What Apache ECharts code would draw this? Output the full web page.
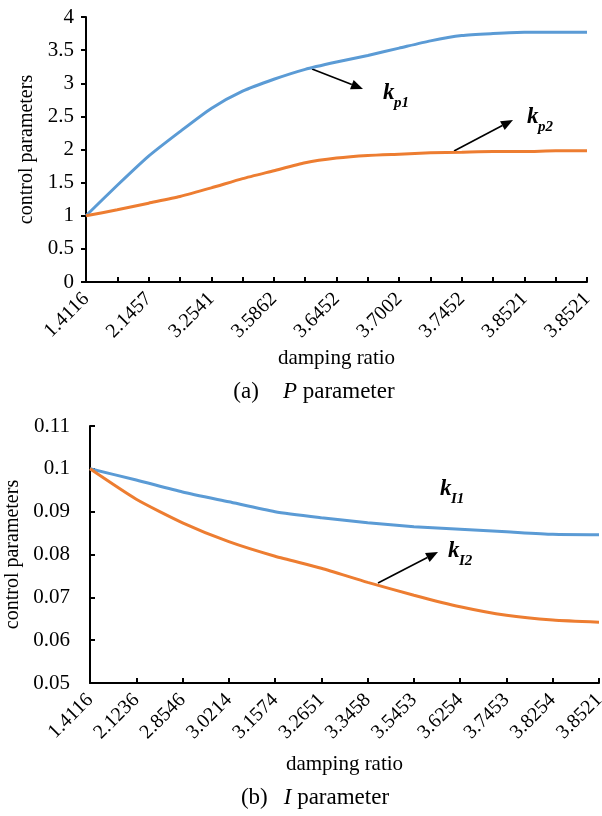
<!DOCTYPE html>
<html>
<head>
<meta charset="utf-8">
<title>control parameters</title>
<script src="https://cdn.jsdelivr.net/npm/echarts@6/dist/echarts.min.js"></script>
<style>
  html, body { margin: 0; padding: 0; background: #ffffff; }
  #main { width: 602px; height: 816px; }
</style>
</head>
<body>
<div id="main"></div>
<script>
// (a) P parameter: 17 points, only every other label is printed
var pLabels = ['1.4116', '', '2.1457', '', '3.2541', '', '3.5862', '', '3.6452', '',
  '3.7002', '', '3.7452', '', '3.8521', '', '3.8521'];
var kp1 = [1.00, 1.46, 1.90, 2.27, 2.62, 2.88, 3.06, 3.21, 3.32, 3.42, 3.53, 3.64, 3.72, 3.75, 3.77, 3.77, 3.77];
var kp2 = [1.00, 1.09, 1.19, 1.29, 1.42, 1.56, 1.68, 1.80, 1.87, 1.91, 1.93, 1.95, 1.96, 1.97, 1.97, 1.98, 1.98];

// (b) I parameter
var iLabels = ['1.4116', '2.1236', '2.8546', '3.0214', '3.1574', '3.2651',
  '3.3458', '3.5453', '3.6254', '3.7453', '3.8254', '3.8521'];
var kI1 = [0.1000, 0.0974, 0.0946, 0.0923, 0.0900, 0.0886, 0.0874, 0.0865, 0.0859, 0.0853, 0.0847, 0.0846];
var kI2 = [0.1000, 0.0929, 0.0874, 0.0830, 0.0796, 0.0768, 0.0735, 0.0705, 0.0678, 0.0658, 0.0647, 0.0642];

var FONT = '"Liberation Serif", "Times New Roman", serif';
var BLUE = '#5b9bd5';
var ORANGE = '#ed7d31';

// arrow = line + small triangle head
function arrow(x1, y1, x2, y2) {
  var dx = x2 - x1, dy = y2 - y1;
  var len = Math.sqrt(dx * dx + dy * dy);
  var ux = dx / len, uy = dy / len;
  var hl = 12, hw = 5;
  var bx = x2 - ux * hl, by = y2 - uy * hl;
  return {
    type: 'group',
    children: [
      { type: 'line', shape: { x1: x1, y1: y1, x2: bx, y2: by }, style: { stroke: '#000', lineWidth: 1.6 } },
      {
        type: 'polygon',
        shape: { points: [[x2, y2], [bx - uy * hw, by + ux * hw], [bx + uy * hw, by - ux * hw]] },
        style: { fill: '#000' }
      }
    ]
  };
}

function kLabel(x, y, sub) {
  return {
    type: 'group',
    children: [
      { type: 'text', x: x, y: y, style: { text: 'k', font: 'italic bold 23px ' + FONT, fill: '#000', verticalAlign: 'bottom' } },
      { type: 'text', x: x + 11, y: y + 6, style: { text: sub, font: 'italic bold 15px ' + FONT, fill: '#000', verticalAlign: 'bottom' } }
    ]
  };
}

function xAxisOf(grid, data, labelInterval, margin, gap) {
  return {
    type: 'category',
    gridIndex: grid,
    data: data,
    boundaryGap: false,
    name: 'damping ratio',
    nameLocation: 'middle',
    nameGap: gap,
    nameTextStyle: { fontFamily: FONT, fontSize: 21, color: '#000' },
    axisLine: { lineStyle: { color: '#000', width: 2 } },
    axisTick: { show: true, inside: true, length: 5, interval: 0, lineStyle: { color: '#000', width: 2 } },
    axisLabel: { interval: labelInterval, rotate: 45, margin: margin, fontFamily: FONT, fontSize: 20, color: '#000' },
    splitLine: { show: false }
  };
}

function yAxisOf(grid, min, max, step, inside, margin, gap) {
  return {
    type: 'value',
    gridIndex: grid,
    min: min,
    max: max,
    interval: step,
    name: 'control parameters',
    nameLocation: 'middle',
    nameGap: gap,
    nameTextStyle: { fontFamily: FONT, fontSize: 20, color: '#000' },
    axisLine: { show: true, lineStyle: { color: '#000', width: 2 } },
    axisTick: { show: true, inside: inside, length: 5, lineStyle: { color: '#000', width: 2 } },
    axisLabel: { margin: margin, fontFamily: FONT, fontSize: 21, color: '#000' },
    splitLine: { show: false }
  };
}

function lineOf(x, y, data, color) {
  return {
    type: 'line',
    xAxisIndex: x,
    yAxisIndex: y,
    data: data,
    smooth: 0.2,
    symbol: 'none',
    lineStyle: { color: color, width: 3 },
    itemStyle: { color: color },
    silent: true
  };
}

var chart = echarts.init(document.getElementById('main'), null, { renderer: 'canvas' });
chart.setOption({
  backgroundColor: '#ffffff',
  animation: false,
  textStyle: { fontFamily: FONT },
  grid: [
    { left: 86, right: 15, top: 17, height: 265, outerBoundsMode: 'none' },
    { left: 90, right: 3, top: 426, height: 257, outerBoundsMode: 'none' }
  ],
  xAxis: [
    xAxisOf(0, pLabels, 0, 14, 66),
    xAxisOf(1, iLabels, 0, 14, 71)
  ],
  yAxis: [
    yAxisOf(0, 0, 4, 0.5, false, 12, 49),
    yAxisOf(1, 0.05, 0.11, 0.01, true, 20, 66)
  ],
  series: [
    lineOf(0, 0, kp1, BLUE),
    lineOf(0, 0, kp2, ORANGE),
    lineOf(1, 1, kI1, BLUE),
    lineOf(1, 1, kI2, ORANGE)
  ],
  graphic: [
    arrow(312, 69, 363, 89),
    arrow(454, 151, 513, 120),
    arrow(378, 583, 438, 552),
    kLabel(383, 105, 'p1'),
    kLabel(527, 129, 'p2'),
    kLabel(440, 501, 'I1'),
    kLabel(448, 563, 'I2'),
    {
      type: 'text', x: 314, y: 392,
      style: {
        text: '{n|(a)}{g| }{i|P}{n| parameter}',
        align: 'center', verticalAlign: 'middle',
        rich: {
          n: { fontFamily: FONT, fontSize: 23, color: '#000' },
          i: { fontFamily: FONT, fontSize: 23, fontStyle: 'italic', color: '#000' },
          g: { width: 24 }
        }
      }
    },
    {
      type: 'text', x: 315, y: 798,
      style: {
        text: '{n|(b)}{g| }{i|I}{n| parameter}',
        align: 'center', verticalAlign: 'middle',
        rich: {
          n: { fontFamily: FONT, fontSize: 23, color: '#000' },
          i: { fontFamily: FONT, fontSize: 23, fontStyle: 'italic', color: '#000' },
          g: { width: 16 }
        }
      }
    }
  ]
});
</script>
</body>
</html>
